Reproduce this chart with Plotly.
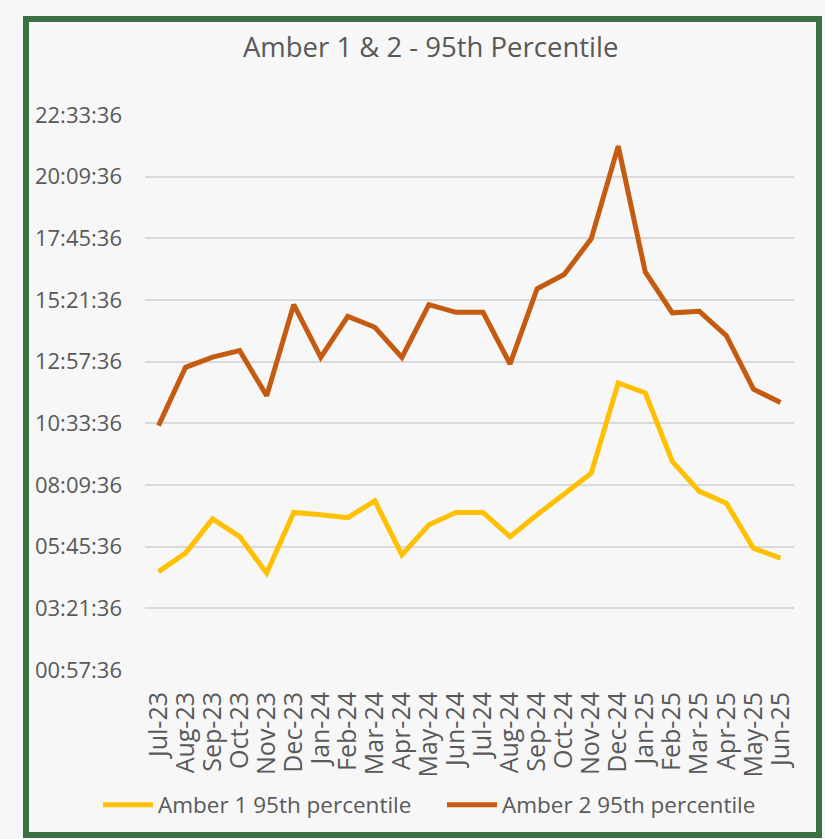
import plotly.graph_objects as go

months = ["Jul-23", "Aug-23", "Sep-23", "Oct-23", "Nov-23", "Dec-23",
          "Jan-24", "Feb-24", "Mar-24", "Apr-24", "May-24", "Jun-24",
          "Jul-24", "Aug-24", "Sep-24", "Oct-24", "Nov-24", "Dec-24",
          "Jan-25", "Feb-25", "Mar-25", "Apr-25", "May-25", "Jun-25"]

# 95th percentile in hours
amber1_hours = [4.79, 5.51, 6.84, 6.15, 4.73, 7.09,
                7.00, 6.89, 7.54, 5.44, 6.61, 7.09,
                7.09, 6.15, 7.00, 7.78, 8.62, 12.13,
                11.74, 9.08, 7.91, 7.45, 5.70, 5.31]

amber2_hours = [10.47, 12.74, 13.14, 13.39, 11.63, 15.18,
                13.13, 14.72, 14.30, 13.13, 15.18, 14.88,
                14.88, 12.87, 15.80, 16.35, 17.74, 21.35,
                16.45, 14.86, 14.92, 13.97, 11.89, 11.37]

y_tick_labels = ["00:57:36", "03:21:36", "05:45:36", "08:09:36", "10:33:36",
                 "12:57:36", "15:21:36", "17:45:36", "20:09:36", "22:33:36"]


def hms_to_hours(s):
    h, m, sec = (int(p) for p in s.split(":"))
    return h + m / 60 + sec / 3600


y_tick_vals = [hms_to_hours(s) for s in y_tick_labels]

W, H = 825, 839
L, R, T, B = 145, 31, 115, 169
PW, PH = W - L - R, H - T - B

TEXT = "#595959"
FONT = "Open Sans"

fig = go.Figure()
fig.add_trace(go.Scatter(x=months, y=amber1_hours, mode="lines",
                         name="Amber 1 95th percentile", legend="legend",
                         line=dict(color="#FFC000", width=5)))
fig.add_trace(go.Scatter(x=months, y=amber2_hours, mode="lines",
                         name="Amber 2 95th percentile", legend="legend2",
                         line=dict(color="#C55A11", width=5)))


def px_x(p):
    return (p - L) / PW


def px_y(p):
    return (H - B - p) / PH


fig.add_shape(type="rect", xref="paper", yref="paper",
              x0=px_x(26), x1=px_x(819), y0=px_y(835), y1=px_y(19),
              line=dict(color="#3B7043", width=6), layer="above")

legend_common = dict(orientation="h", xanchor="left", xref="container",
                     y=1 - 805 / H, yanchor="middle", yref="container",
                     font=dict(family=FONT, size=22.5, color=TEXT),
                     bgcolor="rgba(0,0,0,0)", itemwidth=50)

fig.update_layout(
    width=W, height=H,
    margin=dict(l=L, r=R, t=T, b=B, autoexpand=False),
    paper_bgcolor="#F7F7F7", plot_bgcolor="#F7F7F7",
    title=dict(text="Amber 1 & 2 - 95th Percentile", x=0.522, xanchor="center",
               y=1 - 47 / H, yanchor="middle", yref="container",
               font=dict(family=FONT, size=27.5, color=TEXT)),
    showlegend=True,
    legend=dict(x=98 / W, **legend_common),
    legend2=dict(x=442 / W, **legend_common),
    xaxis=dict(type="category", tickangle=-90, showgrid=False, showline=False,
               zeroline=False, ticks="", ticklabelstandoff=16, automargin=False,
               tickmode="array", tickvals=months, ticktext=months,
               tickfont=dict(family=FONT, size=25, color=TEXT),
               range=[-0.5, len(months) - 0.5]),
    yaxis=dict(range=[y_tick_vals[0] - 0.001, y_tick_vals[-1] + 0.001],
               tickmode="array", tickvals=y_tick_vals, ticktext=y_tick_labels,
               showgrid=True, gridcolor="#D9D9D9", gridwidth=1.5, automargin=False,
               zeroline=False, showline=False, ticks="", ticklabelstandoff=22,
               tickfont=dict(family=FONT, size=22, color=TEXT)),
)

fig.write_html("out.html", config={"displayModeBar": False},
               post_script="document.body.style.margin='0';"
                           "document.body.style.background='#F7F7F7';")
